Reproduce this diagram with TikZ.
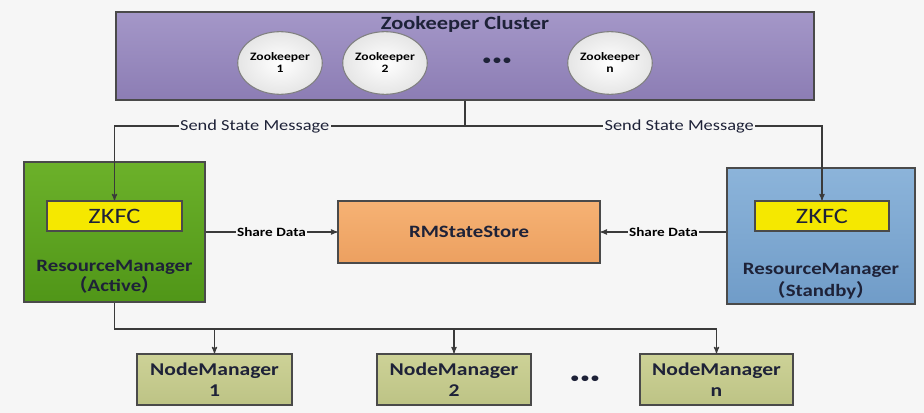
\documentclass[tikz,border=0pt]{standalone}
\usepackage{fontspec}
\setmainfont{Carlito}[FakeStretch=1.2]
\newfontfamily\cjkfont{Noto Sans CJK SC}
\usetikzlibrary{arrows,shapes,calc,positioning}
\definecolor{bgcol}{HTML}{F6F6F6}
\definecolor{edgecol}{HTML}{4A4A4A}
\definecolor{linecol}{HTML}{3A3A3A}
\definecolor{txtcol}{HTML}{1E2238}
\tikzset{
conn/.style={->,>=stealth',line width=0.8pt,draw=linecol},
plain/.style={line width=0.8pt,draw=linecol},
box/.style={rectangle,draw=edgecol,line width=1pt,inner sep=0pt,align=center,text=txtcol},
zk/.style={ellipse,draw=gray,line width=0.8pt,inner sep=0pt,minimum width=63pt,minimum height=47pt,
  inner color=white,outer color=gray!20,align=center,font=\fontsize{8.5}{9}\selectfont\bfseries,text=black},
msg/.style={fill=bgcol,inner sep=1pt,font=\fontsize{11.5}{12}\selectfont,text=txtcol},
share/.style={fill=bgcol,inner sep=1pt,font=\fontsize{9.5}{10}\selectfont\bfseries,text=black},
nm/.style={box,minimum height=38.25pt,top color=HTML-nmtop,bottom color=HTML-nmbot,
  font=\fontsize{13.5}{16}\selectfont\bfseries},
dotrow/.style={font=\fontsize{10}{10}\selectfont\bfseries,text=txtcol}
}
\definecolor{HTML-nmtop}{HTML}{CDD297}
\definecolor{HTML-nmbot}{HTML}{BDC385}
\begin{document}
\begin{tikzpicture}[x=0.75pt,y=-0.75pt]
	\fill[bgcol] (0,0) rectangle (924,413);
	\useasboundingbox (0,0) rectangle (924,413);
	
	%zookeeper cluster
	\node[box,minimum width=523.5pt,minimum height=66pt,top color={rgb,255:red,164;green,151;blue,200},
	  bottom color={rgb,255:red,140;green,125;blue,180}] (cluster) at (465,56) {};
	\node[text=txtcol,font=\fontsize{14}{16}\selectfont\bfseries] (ctitle) at (465,24) {Zookeeper Cluster};
	\node[zk] (zk1) at (280,63) {Zookeeper\\1};
	\node[zk] (zk2) at (385,63) {Zookeeper\\2};
	\node[zk] (zkn) at (610,63) {Zookeeper\\n};
	\node[dotrow] (zkdots) at (497,61) {\textbullet\,\textbullet\,\textbullet};
	
	%resource managers
	\node[box,minimum width=135.75pt,minimum height=105pt,top color={rgb,255:red,108;green,177;blue,42},
	  bottom color={rgb,255:red,80;green,150;blue,24}] (rma) at (114.5,232) {};
	\node[box,minimum width=101.25pt,minimum height=22.5pt,fill={rgb,255:red,245;green,232;blue,0},
	  font=\fontsize{16.5}{18}\selectfont] (zkfca) at (114.5,216) {ZKFC};
	\node[text=txtcol,align=center,font=\fontsize{13}{15}\selectfont\bfseries] (rmatext) at (114.5,277)
	  {ResourceManager\\{\cjkfont （}Active{\cjkfont ）}};
	
	\node[box,minimum width=141pt,minimum height=102pt,top color={rgb,255:red,140;green,180;blue,218},
	  bottom color={rgb,255:red,112;green,156;blue,200}] (rmb) at (821,236) {};
	\node[box,minimum width=100.5pt,minimum height=22.5pt,fill={rgb,255:red,245;green,232;blue,0},
	  font=\fontsize{16.5}{18}\selectfont] (zkfcb) at (822,216) {ZKFC};
	\node[text=txtcol,align=center,font=\fontsize{13}{16.5}\selectfont\bfseries] (rmbtext) at (821,281)
	  {ResourceManager\\{\cjkfont （}Standby{\cjkfont ）}};
	
	%state store
	\node[box,minimum width=196.5pt,minimum height=46.5pt,top color={rgb,255:red,246;green,178;blue,116},
	  bottom color={rgb,255:red,236;green,160;blue,96},font=\fontsize{13}{15}\selectfont\bfseries] (rms) at (469,232) {RMStateStore};
	
	%node managers
	\node[nm,minimum width=116.25pt] (nm1) at (214.5,379.5) {NodeManager\\1};
	\node[nm,minimum width=115.5pt] (nm2) at (454,379.5) {NodeManager\\2};
	\node[nm,minimum width=114.75pt] (nmn) at (716.5,379.5) {NodeManager\\n};
	\node[dotrow] (nmdots) at (585,379) {\textbullet\,\textbullet\,\textbullet};
	
	%connectors
	\coordinate (zkbus) at (465,126);
	\draw[plain] (cluster.south) -- (zkbus);
	\draw[conn] (zkbus) -| node[msg,pos=0.3] {Send State Message} (zkfca.north);
	\draw[conn] (zkbus) -| node[msg,pos=0.3] {Send State Message} (zkfcb.north);
	
	\draw[conn] (rma.east) -- node[share] {Share Data} (rms.west);
	\draw[conn] (rmb.west |- rms.east) -- node[share] {Share Data} (rms.east);
	
	\coordinate (nmbus) at (114.5,329);
	\draw[plain] (rma.south) -- (nmbus) -- (nmbus -| nmn.north);
	\foreach \n in {nm1,nm2,nmn}
		\draw[conn] (nmbus -| \n.north) -- (\n.north);
\end{tikzpicture}
\end{document}
